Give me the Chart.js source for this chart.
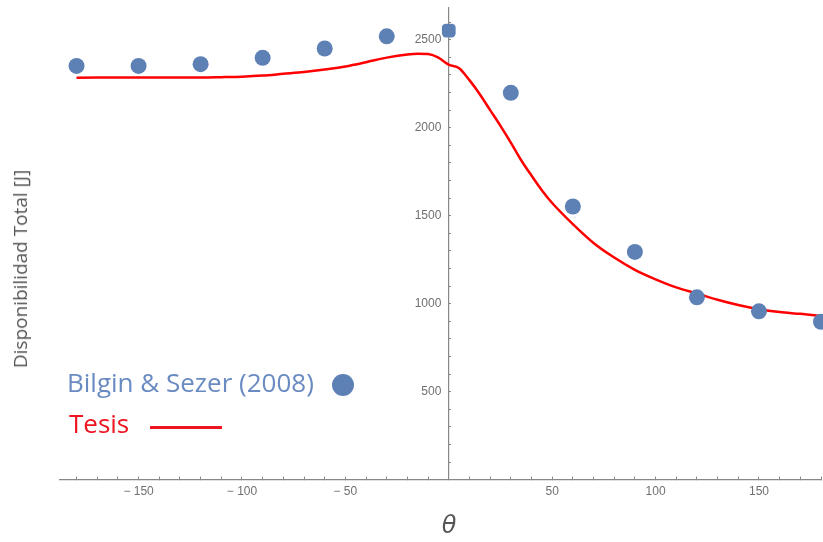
<!DOCTYPE html>
<html>
<head>
<meta charset="utf-8">
<script src="https://cdn.jsdelivr.net/npm/chart.js@4/dist/chart.umd.min.js"></script>
<style>
  html, body { margin: 0; padding: 0; background: #fff; overflow: hidden; }
  #wrap { position: relative; width: 823px; height: 542px; overflow: hidden; }
  #c { position: absolute; left: 0; top: 0; }
  .txt { position: absolute; white-space: nowrap; line-height: 1; }
  #ytitle { left: 20px; top: 269px; transform: translate(-50%, -50%) rotate(-90deg);
            font: 19px "Open Sans", sans-serif; color: #555; }
  #xtitle { left: 449px; top: 525px; transform: translate(-50%, -50%);
            font: italic 24px "DejaVu Sans", sans-serif; color: #555; }
  #leg1 { left: 67px; top: 364px; font: 26px "Open Sans", sans-serif; color: #6a8bc2; }
  #leg2 { left: 69px; top: 405px; font: 26px "Open Sans", sans-serif; color: #ee1520; }
  #dot { left: 332px; top: 374px; width: 22px; height: 22px; border-radius: 50%; background: #5e81b5; }
  #lin { left: 150px; top: 426px; width: 72px; height: 3px; background: #ee1520; }
</style>
</head>
<body>
<div id="wrap">
  <canvas id="c" width="829" height="542"></canvas>
  <div class="txt" id="ytitle">Disponibilidad Total [J]</div>
  <div class="txt" id="xtitle">θ</div>
  <div class="txt" id="leg1">Bilgin &amp; Sezer (2008)</div>
  <div class="txt" id="dot"></div>
  <div class="txt" id="leg2">Tesis</div>
  <div class="txt" id="lin"></div>
</div>
<script>
// Bilgin & Sezer (2008) measured points
const angles = [-180, -150, -120, -90, -60, -30, 0, 30, 60, 90, 120, 150, 180];
const bilginValues = [2351, 2351, 2361, 2397, 2450, 2519, 2552, 2198, 1552, 1294, 1036, 956, 897];

// Tesis curve
const tesisAngles = [-180, -150, -120, -110, -100, -90, -80, -70, -60, -50, -40, -30, -20, -15, -10, -5, 0, 5, 10, 15, 20, 25, 30, 35, 40, 45, 50, 60, 70, 80, 90, 100, 110, 120, 130, 140, 150, 160, 170, 180];
const tesisValues = [2284, 2285, 2285, 2287, 2290, 2296, 2306, 2316, 2330, 2348, 2372, 2398, 2416, 2420, 2418, 2398, 2358, 2338, 2270, 2190, 2100, 2010, 1915, 1815, 1728, 1645, 1572, 1452, 1345, 1262, 1192, 1138, 1092, 1058, 1022, 992, 968, 952, 942, 930];

// tick labels
const xTickLabels = [-150, -100, -50, 50, 100, 150];
const yTickLabels = [500, 1000, 1500, 2000, 2500];

const bilginData = angles.map((a, i) => ({x: a, y: bilginValues[i]}));
const tesisData = tesisAngles.map((a, i) => ({x: a, y: tesisValues[i]}));

const axisColor = '#888';
const labelColor = '#707070';
const tickFont = { family: 'Liberation Sans, Arial, sans-serif', size: 12 };
const noPad = (s) => { s.paddingLeft = 0; s.paddingRight = 0; s.paddingTop = 0; s.paddingBottom = 0; };

new Chart(document.getElementById('c'), {
  type: 'scatter',
  data: {
    datasets: [
      {
        label: 'Tesis',
        data: tesisData,
        showLine: true,
        borderColor: '#ff0000',
        borderWidth: 2.5,
        pointRadius: 0,
        cubicInterpolationMode: 'monotone',
        yAxisID: 'y',
        order: 2
      },
      {
        label: 'Bilgin & Sezer (2008)',
        data: bilginData,
        backgroundColor: '#5e81b5',
        borderColor: '#5e81b5',
        borderWidth: 0,
        pointRadius: 8,
        pointStyle: angles.map(a => a === 0 ? 'rectRounded' : 'circle'),
        clip: false,
        yAxisID: 'y',
        order: 1
      }
    ]
  },
  options: {
    responsive: false,
    animation: false,
    layout: { padding: { left: 60, right: 0, top: 8, bottom: 35 } },
    plugins: { legend: { display: false }, tooltip: { enabled: false } },
    scales: {
      x: {
        type: 'linear',
        min: -188,
        max: 180,
        position: 'bottom',
        afterFit: noPad,
        border: { display: true, color: axisColor, width: 1.2 },
        grid: { drawOnChartArea: false, drawTicks: true, tickLength: -3, color: axisColor },
        ticks: {
          stepSize: 10,
          includeBounds: false,
          autoSkip: false,
          maxRotation: 0,
          padding: 8,
          color: labelColor,
          font: tickFont,
          callback: (v) => xTickLabels.includes(v) ? (v < 0 ? '\u2212 ' + Math.abs(v) : String(v)) : ''
        }
      },
      y: {
        type: 'linear',
        min: 0,
        max: 2680,
        position: { x: 0 },
        afterFit: noPad,
        border: { display: true, color: axisColor, width: 1.2 },
        grid: { drawOnChartArea: false, drawTicks: true, tickLength: -3, color: axisColor },
        ticks: {
          stepSize: 100,
          includeBounds: false,
          autoSkip: false,
          display: false
        }
      },
      yLabels: {
        type: 'linear',
        min: 0,
        max: 2680,
        position: { x: -3.6 },
        afterFit: noPad,
        border: { display: false },
        grid: { display: false, drawOnChartArea: false, drawTicks: false },
        ticks: {
          stepSize: 100,
          includeBounds: false,
          autoSkip: false,
          color: labelColor,
          font: tickFont,
          callback: (v) => yTickLabels.includes(v) ? String(v) : ''
        }
      }
    }
  }
});
</script>
</body>
</html>
